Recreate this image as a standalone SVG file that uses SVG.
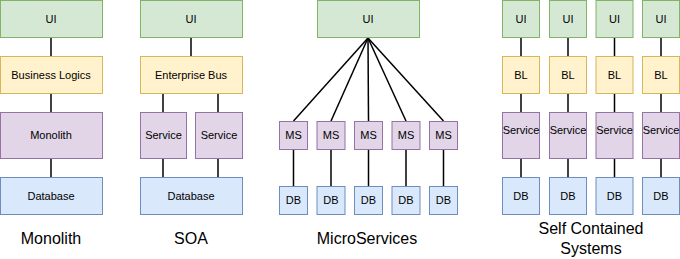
<svg xmlns="http://www.w3.org/2000/svg" width="680" height="259" viewBox="0 0 680 259">
<style>
.g{fill:#d5e8d4;stroke:#82b366;stroke-width:1}
.y{fill:#fff2cc;stroke:#d6b656;stroke-width:1}
.p{fill:#e1d5e7;stroke:#9673a6;stroke-width:1}
.b{fill:#dae8fc;stroke:#6c8ebf;stroke-width:1}
text{font-family:"Liberation Sans",Arial,sans-serif;fill:#000;text-anchor:middle}
.t{font-size:11px}
.L{font-size:16px}
#connectors line{stroke:#000;stroke-width:1.5}
</style>
<rect width="680" height="259" fill="#fff"/>
<g id="connectors">
<line x1="51" y1="37" x2="51" y2="56"/>
<line x1="51" y1="93" x2="51" y2="112"/>
<line x1="51" y1="158" x2="51" y2="177"/>
<line x1="191" y1="37" x2="191" y2="56"/>
<line x1="163" y1="93" x2="163" y2="112"/>
<line x1="218" y1="93" x2="218" y2="112"/>
<line x1="163" y1="158" x2="163" y2="177"/>
<line x1="218" y1="158" x2="218" y2="177"/>
<line x1="368" y1="38" x2="293.5" y2="121"/>
<line x1="368" y1="38" x2="331" y2="121"/>
<line x1="368" y1="38" x2="368.5" y2="121"/>
<line x1="368" y1="38" x2="406" y2="121"/>
<line x1="368" y1="38" x2="443.5" y2="121"/>
<line x1="293.5" y1="149" x2="293.5" y2="186"/>
<line x1="331" y1="149" x2="331" y2="186"/>
<line x1="368.5" y1="149" x2="368.5" y2="186"/>
<line x1="406" y1="149" x2="406" y2="186"/>
<line x1="443.5" y1="149" x2="443.5" y2="186"/>
<line x1="521" y1="37" x2="521" y2="56"/><line x1="521" y1="93" x2="521" y2="112"/><line x1="521" y1="158" x2="521" y2="177"/>
<line x1="568" y1="37" x2="568" y2="56"/><line x1="568" y1="93" x2="568" y2="112"/><line x1="568" y1="158" x2="568" y2="177"/>
<line x1="614.5" y1="37" x2="614.5" y2="56"/><line x1="614.5" y1="93" x2="614.5" y2="112"/><line x1="614.5" y1="158" x2="614.5" y2="177"/>
<line x1="661" y1="37" x2="661" y2="56"/><line x1="661" y1="93" x2="661" y2="112"/><line x1="661" y1="158" x2="661" y2="177"/>
</g>
<!-- Monolith -->
<g id="mono-ui"><rect class="g" x="0.5" y="0.5" width="102" height="37"/><text class="t" x="51" y="22.5">UI</text></g>
<g id="mono-bl"><rect class="y" x="0.5" y="56.5" width="102" height="37"/><text class="t" x="51" y="78.5">Business Logics</text></g>
<g id="mono-mono"><rect class="p" x="0.5" y="112.5" width="102" height="46"/><text class="t" x="51" y="139">Monolith</text></g>
<g id="mono-db"><rect class="b" x="0.5" y="177.5" width="102" height="37"/><text class="t" x="51" y="199.5">Database</text></g>
<g id="lbl-mono"><text class="L" x="51" y="244">Monolith</text></g>
<!-- SOA -->
<g id="soa-ui"><rect class="g" x="140.5" y="0.5" width="102" height="37"/><text class="t" x="191" y="22.5">UI</text></g>
<g id="soa-bus"><rect class="y" x="140.5" y="56.5" width="102" height="37"/><text class="t" x="191" y="78.5">Enterprise Bus</text></g>
<g id="soa-s1"><rect class="p" x="140.5" y="112.5" width="46" height="46"/><text class="t" x="163.5" y="139">Service</text></g>
<g id="soa-s2"><rect class="p" x="195.5" y="112.5" width="47" height="46"/><text class="t" x="219" y="139">Service</text></g>
<g id="soa-db"><rect class="b" x="140.5" y="177.5" width="102" height="37"/><text class="t" x="191" y="199.5">Database</text></g>
<g id="lbl-soa"><text class="L" x="191" y="244">SOA</text></g>
<!-- MicroServices -->
<g id="ms-ui"><rect class="g" x="317.5" y="0.5" width="102" height="37"/><text class="t" x="368" y="22.5">UI</text></g>
<g id="ms1"><rect class="p" x="279.5" y="121.5" width="28" height="28"/><text class="t" x="293.5" y="139">MS</text></g>
<g id="ms2"><rect class="p" x="317" y="121.5" width="28" height="28"/><text class="t" x="331" y="139">MS</text></g>
<g id="ms3"><rect class="p" x="354.5" y="121.5" width="28" height="28"/><text class="t" x="368.5" y="139">MS</text></g>
<g id="ms4"><rect class="p" x="392" y="121.5" width="28" height="28"/><text class="t" x="406" y="139">MS</text></g>
<g id="ms5"><rect class="p" x="429.5" y="121.5" width="28" height="28"/><text class="t" x="443.5" y="139">MS</text></g>
<g id="db1"><rect class="b" x="279.5" y="186.5" width="28" height="28"/><text class="t" x="293.5" y="204">DB</text></g>
<g id="db2"><rect class="b" x="317" y="186.5" width="28" height="28"/><text class="t" x="331" y="204">DB</text></g>
<g id="db3"><rect class="b" x="354.5" y="186.5" width="28" height="28"/><text class="t" x="368.5" y="204">DB</text></g>
<g id="db4"><rect class="b" x="392" y="186.5" width="28" height="28"/><text class="t" x="406" y="204">DB</text></g>
<g id="db5"><rect class="b" x="429.5" y="186.5" width="28" height="28"/><text class="t" x="443.5" y="204">DB</text></g>
<g id="lbl-ms"><text class="L" x="367" y="244">MicroServices</text></g>
<!-- SCS -->
<g id="scs1-ui"><rect class="g" x="502.5" y="0.5" width="37" height="37"/><text class="t" x="521" y="22.5">UI</text></g>
<g id="scs1-bl"><rect class="y" x="502.5" y="56.5" width="37" height="37"/><text class="t" x="521" y="78.5">BL</text></g>
<g id="scs1-s"><rect class="p" x="502.5" y="112.5" width="37" height="46"/><text class="t" x="521" y="134">Service</text></g>
<g id="scs1-db"><rect class="b" x="502.5" y="177.5" width="37" height="37"/><text class="t" x="521" y="199.5">DB</text></g>
<g id="scs2-ui"><rect class="g" x="549.5" y="0.5" width="37" height="37"/><text class="t" x="568" y="22.5">UI</text></g>
<g id="scs2-bl"><rect class="y" x="549.5" y="56.5" width="37" height="37"/><text class="t" x="568" y="78.5">BL</text></g>
<g id="scs2-s"><rect class="p" x="549.5" y="112.5" width="37" height="46"/><text class="t" x="568" y="134">Service</text></g>
<g id="scs2-db"><rect class="b" x="549.5" y="177.5" width="37" height="37"/><text class="t" x="568" y="199.5">DB</text></g>
<g id="scs3-ui"><rect class="g" x="596" y="0.5" width="37" height="37"/><text class="t" x="614.5" y="22.5">UI</text></g>
<g id="scs3-bl"><rect class="y" x="596" y="56.5" width="37" height="37"/><text class="t" x="614.5" y="78.5">BL</text></g>
<g id="scs3-s"><rect class="p" x="596" y="112.5" width="37" height="46"/><text class="t" x="614.5" y="134">Service</text></g>
<g id="scs3-db"><rect class="b" x="596" y="177.5" width="37" height="37"/><text class="t" x="614.5" y="199.5">DB</text></g>
<g id="scs4-ui"><rect class="g" x="642.5" y="0.5" width="37" height="37"/><text class="t" x="661" y="22.5">UI</text></g>
<g id="scs4-bl"><rect class="y" x="642.5" y="56.5" width="37" height="37"/><text class="t" x="661" y="78.5">BL</text></g>
<g id="scs4-s"><rect class="p" x="642.5" y="112.5" width="37" height="46"/><text class="t" x="661" y="134">Service</text></g>
<g id="scs4-db"><rect class="b" x="642.5" y="177.5" width="37" height="37"/><text class="t" x="661" y="199.5">DB</text></g>
<g id="lbl-scs"><text class="L" x="591" y="234">Self Contained</text><text class="L" x="591" y="254">Systems</text></g>
</svg>
